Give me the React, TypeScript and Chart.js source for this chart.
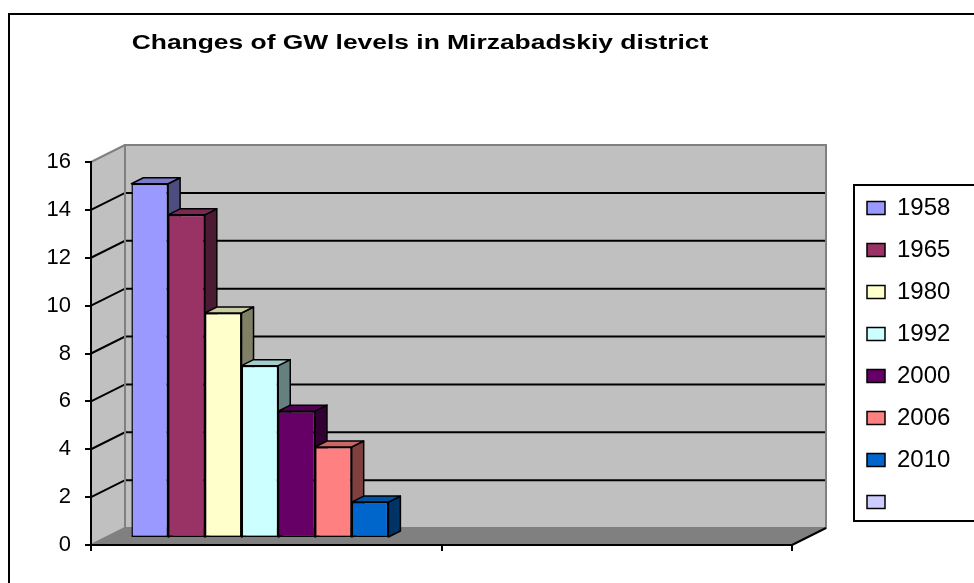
import React, { useEffect, useRef } from 'react';
import { Chart, registerables } from 'chart.js';

Chart.register(...registerables);

const titleText = 'Changes of GW levels in Mirzabadskiy district';
const categories = ['', ''];
const seriesLabels = ['1958', '1965', '1980', '1992', '2000', '2006', '2010', ''];
const seriesValues: (number | null)[] = [14.8, 13.5, 9.4, 7.2, 5.3, 3.8, 1.5, null];
const seriesColors = ['#9999FF', '#993366', '#FFFFCC', '#CCFFFF', '#660066', '#FF8080', '#0066CC', '#CCCCFF'];
const yMin = 0;
const yMax = 16;
const yStep = 2;

const FONT = "'Liberation Sans', Arial, sans-serif";
const WALL_DX = 34;
const WALL_DY = -17;
const BAR_TX = 12;
const BAR_TY = -7;
const FACE_DX = 12;
const FACE_DY = -6;
const TITLE_CX = 420;
const TITLE_STRETCH = 1.32;

function shade(hex: string, f: number): string {
  const n = parseInt(hex.slice(1), 16);
  const r = Math.round(((n >> 16) & 255) * f);
  const g = Math.round(((n >> 8) & 255) * f);
  const b = Math.round((n & 255) * f);
  return `rgb(${r},${g},${b})`;
}

function poly(ctx: CanvasRenderingContext2D, pts: number[][], fill?: string, stroke?: string, lw = 1) {
  ctx.beginPath();
  ctx.moveTo(pts[0][0], pts[0][1]);
  for (let i = 1; i < pts.length; i++) ctx.lineTo(pts[i][0], pts[i][1]);
  ctx.closePath();
  if (fill) {
    ctx.fillStyle = fill;
    ctx.fill();
  }
  if (stroke) {
    ctx.strokeStyle = stroke;
    ctx.lineWidth = lw;
    ctx.stroke();
  }
}

const threeD = {
  id: 'threeD',
  afterLayout(chart: any) {
    const t = chart.titleBlock;
    if (t) {
      t.left = 0;
      t.right = TITLE_CX * 2;
      t.width = TITLE_CX * 2;
      if (!t._stretched) {
        const orig = t.draw.bind(t);
        t.draw = (area: any) => {
          const c = chart.ctx;
          c.save();
          c.translate(TITLE_CX, 0);
          c.scale(TITLE_STRETCH, 1);
          c.translate(-TITLE_CX, 0);
          orig(area);
          c.restore();
        };
        t._stretched = true;
      }
    }
    const lg = chart.legend;
    if (lg) {
      lg.left = 849;
      lg.right = 974;
      lg.top = 178;
      lg.bottom = 583;
      lg.width = 125;
      lg.height = 405;
    }
  },
  beforeDraw(chart: any) {
    const { ctx, chartArea: a, scales } = chart;
    const y = scales.y;
    ctx.save();
    ctx.fillStyle = '#fff';
    ctx.fillRect(0, 0, chart.width, chart.height);
    const y0 = y.getPixelForValue(yMin);
    const yT = y.getPixelForValue(yMax);
    const L = a.left;
    const R = a.right;
    poly(ctx, [[L, yT], [L + WALL_DX, yT + WALL_DY], [L + WALL_DX, y0 + WALL_DY], [L, y0]], '#C0C0C0');
    ctx.fillStyle = '#C0C0C0';
    ctx.fillRect(L + WALL_DX, yT + WALL_DY, R - L, y0 - yT);
    poly(ctx, [[L, y0], [R, y0], [R + WALL_DX, y0 + WALL_DY], [L + WALL_DX, y0 + WALL_DY]], '#808080');
    ctx.strokeStyle = '#000';
    ctx.lineWidth = 2;
    for (let v = yMin + yStep; v < yMax; v += yStep) {
      const yf = y.getPixelForValue(v);
      ctx.beginPath();
      ctx.moveTo(L, yf);
      ctx.lineTo(L + WALL_DX, yf + WALL_DY);
      ctx.lineTo(R + WALL_DX, yf + WALL_DY);
      ctx.stroke();
    }
    ctx.strokeStyle = '#808080';
    ctx.lineWidth = 2;
    ctx.strokeRect(L + WALL_DX, yT + WALL_DY, R - L, y0 - yT);
    ctx.beginPath();
    ctx.moveTo(L, yT);
    ctx.lineTo(L + WALL_DX, yT + WALL_DY);
    ctx.stroke();
    ctx.beginPath();
    ctx.moveTo(L, y0);
    ctx.lineTo(L + WALL_DX, y0 + WALL_DY);
    ctx.stroke();
    ctx.strokeStyle = '#000';
    ctx.beginPath();
    ctx.moveTo(R, y0);
    ctx.lineTo(R + WALL_DX, y0 + WALL_DY);
    ctx.stroke();
    ctx.restore();
  },
  beforeDatasetsDraw(chart: any) {
    const ctx = chart.ctx;
    ctx.save();
    ctx.translate(BAR_TX, BAR_TY);
    const boxes: any[] = [];
    chart.data.datasets.forEach((ds: any, i: number) => {
      const meta = chart.getDatasetMeta(i);
      ds.data.forEach((v: any, j: number) => {
        if (v == null) return;
        const el = meta.data[j];
        if (!el) return;
        const p = el.getProps(['x', 'y', 'base', 'width'], true);
        boxes.push({ l: p.x - p.width / 2, r: p.x + p.width / 2, t: p.y, b: p.base, c: ds.backgroundColor });
      });
    });
    ctx.lineJoin = 'round';
    boxes.forEach((k) => {
      poly(ctx, [[k.r, k.t], [k.r + FACE_DX, k.t + FACE_DY], [k.r + FACE_DX, k.b + FACE_DY], [k.r, k.b]], shade(k.c, 0.5), '#000', 1.5);
    });
    boxes.forEach((k) => {
      poly(ctx, [[k.l, k.t], [k.l + FACE_DX, k.t + FACE_DY], [k.r + FACE_DX, k.t + FACE_DY], [k.r, k.t]], shade(k.c, 0.8), '#000', 1.5);
    });
  },
  afterDatasetsDraw(chart: any) {
    chart.ctx.restore();
  },
  afterDraw(chart: any) {
    const ctx = chart.ctx;
    ctx.save();
    ctx.fillStyle = '#000';
    ctx.fillRect(8, 13, 2, chart.height - 13);
    ctx.fillRect(8, 13, chart.width - 8, 2);
    ctx.fillRect(853, 184, 2, 338);
    ctx.fillRect(853, 184, chart.width - 853, 2);
    ctx.fillRect(853, 520, chart.width - 853, 2);
    ctx.restore();
  },
};

export default function App() {
  const ref = useRef<HTMLCanvasElement | null>(null);
  useEffect(() => {
    if (!ref.current) return;
    const chart = new Chart(ref.current, {
      type: 'bar',
      data: {
        labels: categories,
        datasets: seriesLabels.map((label, i) => ({
          label,
          data: [seriesValues[i], null],
          backgroundColor: seriesColors[i],
          borderColor: '#000',
          borderWidth: 1.5,
          borderSkipped: false,
          categoryPercentage: 0.838,
          barPercentage: 1,
          clip: false as any,
        })),
      },
      options: {
        responsive: false,
        animation: false,
        devicePixelRatio: 1,
        events: [],
        layout: { padding: { left: 0, right: 182, top: 0, bottom: 0 } },
        scales: {
          x: {
            ticks: { display: false },
            grid: { offset: true, drawOnChartArea: false, drawTicks: true, tickLength: 6, color: '#000', lineWidth: 2 },
            border: { display: true, color: '#000', width: 2 },
            afterFit: (s: any) => {
              s.height = 38;
            },
          },
          y: {
            min: yMin,
            max: yMax,
            ticks: { stepSize: yStep, color: '#000', padding: 14, font: { size: 22, family: FONT } },
            grid: { drawOnChartArea: false, drawTicks: true, tickLength: 6, color: '#000', lineWidth: 2 },
            border: { display: true, color: '#000', width: 2 },
            afterFit: (s: any) => {
              s.width = 91;
            },
          },
        },
        plugins: {
          title: {
            display: true,
            text: titleText,
            color: '#000',
            font: { size: 20, weight: 'bold', family: FONT },
            padding: { top: 31, bottom: 107 },
          },
          legend: {
            position: 'chartArea' as any,
            align: 'start',
            labels: { boxWidth: 18, boxHeight: 13, padding: 18, color: '#000', font: { size: 24, family: FONT } },
          },
          tooltip: { enabled: false },
        },
      },
      plugins: [threeD],
    });
    return () => chart.destroy();
  }, []);
  return (
    <canvas
      ref={ref}
      width={974}
      height={583}
      style={{ position: 'fixed', left: 0, top: 0, width: '974px', height: '583px' }}
    />
  );
}
